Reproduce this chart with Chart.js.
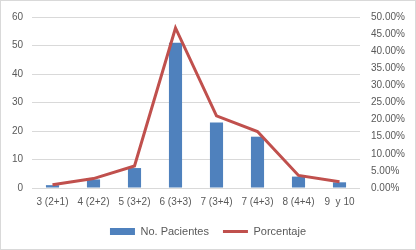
<!DOCTYPE html>
<html><head><meta charset="utf-8">
<script src="https://cdn.jsdelivr.net/npm/chart.js@4/dist/chart.umd.min.js"></script>
<style>html,body{margin:0;padding:0;background:#fff}#w{width:416px;height:250px}</style>
</head><body><div id="w"><canvas id="c" width="416" height="250"></canvas></div>
<script>
const categories = ['3 (2+1)', '4 (2+2)', '5 (3+2)', '6 (3+3)', '7 (3+4)', '7 (4+3)', '8 (4+4)', '9  y 10'];
const pacientes = [1, 3, 7, 51, 23, 18, 4, 2];
const porcentaje = [0.0092, 0.0275, 0.0642, 0.4679, 0.2110, 0.1651, 0.0367, 0.0183];
const leftTicks = [0, 10, 20, 30, 40, 50, 60];
const rightTicks = [0, 0.05, 0.10, 0.15, 0.20, 0.25, 0.30, 0.35, 0.40, 0.45, 0.50];

const FONT = {family: "'Liberation Sans', Arial, sans-serif", size: 10};
const LFONT = {family: "'Liberation Sans', Arial, sans-serif", size: 11};
const TXT = '#595959';
Chart.defaults.font = FONT;
Chart.defaults.color = TXT;

const frame = {
  id: 'frame',
  beforeDraw(chart) {
    const c = chart.ctx;
    c.save();
    c.fillStyle = '#fff';
    c.fillRect(0, 0, chart.width, chart.height);
    c.strokeStyle = '#d9d9d9';
    c.lineWidth = 1;
    c.strokeRect(0.5, 0.5, chart.width - 1, chart.height - 1);
    c.restore();
  }
};

new Chart(document.getElementById('c'), {
  data: {
    labels: categories,
    datasets: [
      {type: 'line', label: 'Porcentaje', data: porcentaje, yAxisID: 'y1',
       borderColor: '#C0504D', backgroundColor: '#C0504D', borderWidth: 3,
       pointRadius: 0, tension: 0, order: 0, pointStyle: 'line'},
      {type: 'bar', label: 'No. Pacientes', data: pacientes, yAxisID: 'y',
       backgroundColor: '#4F81BD', borderWidth: 0, order: 1,
       categoryPercentage: 1, barPercentage: 0.32, pointStyle: 'rect'}
    ]
  },
  options: {
    responsive: false, animation: false, devicePixelRatio: 1,
    layout: {padding: {top: 5, right: 0, left: 0, bottom: 3}},
    plugins: {
      tooltip: {enabled: false},
      legend: {
        position: 'bottom',
        reverse: true,
        labels: {usePointStyle: true, pointStyleWidth: 25, boxHeight: 7, padding: 14, color: TXT, font: LFONT,
          generateLabels(chart) {
            const items = Chart.defaults.plugins.legend.labels.generateLabels(chart);
            items.forEach(it => {
              if (it.datasetIndex === 0) { it.pointStyle = 'line'; it.lineWidth = 3; it.strokeStyle = '#C0504D'; }
              else { it.pointStyle = 'rect'; it.lineWidth = 0; it.fillStyle = '#4F81BD'; it.strokeStyle = '#4F81BD'; }
            });
            return items;
          }
        }
      }
    },
    scales: {
      x: {
        grid: {display: false, drawTicks: false},
        border: {display: false},
        ticks: {color: TXT, font: FONT, maxRotation: 0, autoSkip: false, padding: 8},
        afterFit(s) { s.height = 24; }
      },
      y: {
        position: 'left', min: 0, max: 60,
        afterBuildTicks(s) { s.ticks = leftTicks.map(v => ({value: v})); },
        grid: {color: '#d9d9d9', drawTicks: false},
        border: {display: false},
        ticks: {color: TXT, font: FONT, padding: 9},
        afterFit(s) { s.width = 32; }
      },
      y1: {
        position: 'right', min: 0, max: 0.5,
        afterBuildTicks(s) { s.ticks = rightTicks.map(v => ({value: v})); },
        grid: {display: false, drawTicks: false},
        border: {display: false},
        ticks: {color: TXT, font: FONT, padding: 11, callback: v => (v * 100).toFixed(2) + '%'},
        afterFit(s) { s.width = 56; }
      }
    }
  },
  plugins: [frame]
});
</script></body></html>
